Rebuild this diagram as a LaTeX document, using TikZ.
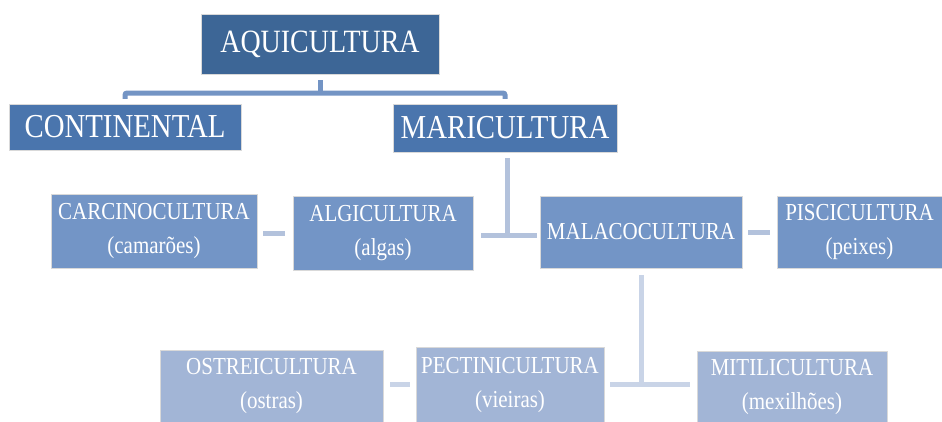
\documentclass[tikz,border=0pt]{standalone}
\usepackage{fontspec}
\setmainfont{Liberation Serif}[FakeStretch=0.86]
\definecolor{lv0}{HTML}{3D6696}
\definecolor{lv1}{HTML}{4A75AD}
\definecolor{lv2}{HTML}{7395C6}
\definecolor{lv3}{HTML}{A2B5D6}
\definecolor{cn1}{HTML}{7394C4}
\definecolor{cn2}{HTML}{B3C2DC}
\definecolor{cn3}{HTML}{C9D4E7}
\begin{document}
\begin{tikzpicture}[x=1pt,y=-1pt,
  box/.style={rectangle,draw=white!85!black,line width=0.4pt,text=white,inner sep=0pt,align=center},
  big/.style={box,font=\fontsize{32.5}{34}\selectfont},
  mid/.style={box,font=\fontsize{33.5}{34}\selectfont},
  small/.style={box,font=\fontsize{24.4}{34}\selectfont},
  c1/.style={draw=cn1,line width=5pt,rounded corners=2pt},
  c2/.style={draw=cn2,line width=5pt},
  c3/.style={draw=cn3,line width=5pt}]
\useasboundingbox (0,0) rectangle (942,421);
\node[big,fill=lv0,minimum width=238pt,minimum height=60pt] (aqui) at (320,44) {AQUICULTURA};
\node[mid,fill=lv1,minimum width=232pt,minimum height=46pt] (cont) at (125,127) {CONTINENTAL};
\node[mid,fill=lv1,minimum width=224pt,minimum height=48pt] (mari) at (505,128) {MARICULTURA};
\node[small,fill=lv2,minimum width=206pt,minimum height=74pt] (carc) at (154,231) {CARCINOCULTURA\\(camarões)};
\node[small,fill=lv2,minimum width=180pt,minimum height=74pt] (algi) at (383,233) {ALGICULTURA\\(algas)};
\node[small,fill=lv2,minimum width=202pt,minimum height=72pt] (mala) at (641,232) {MALACOCULTURA};
\node[small,fill=lv2,minimum width=165pt,minimum height=72pt] (pisc) at (859.5,232) {PISCICULTURA\\(peixes)};
\node[small,fill=lv3,minimum width=223pt,minimum height=72pt] (ostr) at (271.5,386) {OSTREICULTURA\\(ostras)};
\node[small,fill=lv3,minimum width=188pt,minimum height=76pt] (pect) at (510,385) {PECTINICULTURA\\(vieiras)};
\node[small,fill=lv3,minimum width=190pt,minimum height=72pt] (miti) at (792,387) {MITILICULTURA\\(mexilhões)};
% level 1 connector
\coordinate (j1) at (320,93);
\draw[c1] ([yshift=-6pt]aqui.south) -- (j1);
\draw[c1] ([yshift=5pt]cont.north) |- (j1) -| ([yshift=5pt]mari.north);
% maricultura connector
\coordinate (j2) at (507,235);
\draw[c2] ([xshift=2pt,yshift=-6pt]mari.south) -- (j2);
\draw[c2] ([xshift=8pt]algi.east |- j2) -- ([xshift=-3pt]mala.west |- j2);
\draw[c2] ([xshift=6pt]carc.east |- algi.west) -- ([xshift=-8pt]algi.west);
\draw[c2] ([xshift=6pt]mala.east) -- ([xshift=-7pt]pisc.west);
% malacocultura connector
\coordinate (j3) at (641,384);
\draw[c3] ([yshift=-7pt]mala.south) -- (j3);
\draw[c3] ([xshift=6pt]pect.east |- j3) -- ([xshift=-7pt]miti.west |- j3);
\draw[c3] ([xshift=7pt]ostr.east |- j3) -- ([xshift=-6pt]pect.west |- j3);
\end{tikzpicture}
\end{document}
